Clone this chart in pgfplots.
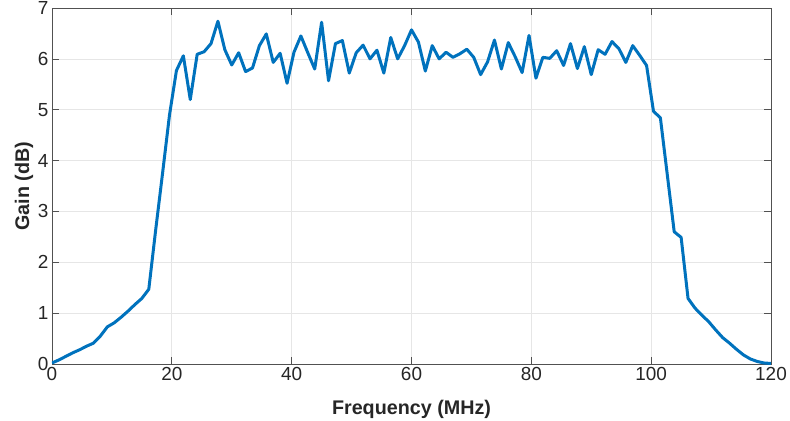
\documentclass[border=0pt]{standalone}
\usepackage{fontspec}
\setmainfont{Liberation Sans}
\usepackage{pgfplots}
\pgfplotsset{compat=1.18}
\definecolor{mblue}{RGB}{0,114,189}
\definecolor{axgray}{RGB}{38,38,38}
\definecolor{gridgray}{RGB}{230,230,230}
\begin{document}
\begin{tikzpicture}
\begin{axis}[
  scale only axis,
  width=719bp, height=356bp,
  anchor=south west, at={(0,0)},
  xmin=0, xmax=120, ymin=0, ymax=7,
  xtick={0,20,...,120}, ytick={0,1,...,7},
  grid=major,
  major grid style={gridgray, line width=0.7bp},
  axis line style={axgray!80, line width=0.7bp},
  tick style={axgray!80, line width=0.7bp},
  tick align=inside,
  major tick length=7bp,
  tick label style={font=\fontsize{19}{22}\selectfont, text=axgray},
  /pgf/number format/assume math mode=true,
  xlabel={Frequency (MHz)},
  ylabel={Gain (dB)},
  label style={font=\fontsize{19.8}{24}\selectfont\bfseries, text=axgray},
  xlabel style={at={(axis description cs:0.5,-0.1264)}, anchor=center},
  ylabel style={at={(axis description cs:-0.039,0.5)}, anchor=center},
]
\addplot[mblue, line width=3bp, line join=round] table {
x y
0.000 0.02
1.154 0.08
2.308 0.15
3.462 0.22
4.615 0.28
5.769 0.35
6.923 0.41
8.077 0.55
9.231 0.73
10.385 0.81
11.538 0.92
12.692 1.04
13.846 1.17
15.000 1.29
16.154 1.47
17.308 2.64
18.462 3.76
19.615 4.90
20.769 5.77
21.923 6.06
23.077 5.20
24.231 6.09
25.385 6.14
26.538 6.30
27.692 6.74
28.846 6.18
30.000 5.88
31.154 6.12
32.308 5.75
33.462 5.82
34.615 6.26
35.769 6.49
36.923 5.93
38.077 6.11
39.231 5.52
40.385 6.13
41.538 6.45
42.692 6.12
43.846 5.80
45.000 6.72
46.154 5.57
47.308 6.30
48.462 6.36
49.615 5.72
50.769 6.12
51.923 6.27
53.077 6.00
54.231 6.17
55.385 5.72
56.538 6.42
57.692 6.00
58.846 6.26
60.000 6.57
61.154 6.33
62.308 5.76
63.462 6.26
64.615 6.00
65.769 6.13
66.923 6.03
68.077 6.10
69.231 6.19
70.385 6.03
71.538 5.69
72.692 5.94
73.846 6.37
75.000 5.80
76.154 6.32
77.308 6.04
78.462 5.73
79.615 6.46
80.769 5.62
81.923 6.03
83.077 6.01
84.231 6.16
85.385 5.87
86.538 6.30
87.692 5.81
88.846 6.24
90.000 5.69
91.154 6.18
92.308 6.09
93.462 6.34
94.615 6.20
95.769 5.93
96.923 6.26
98.077 6.07
99.231 5.87
100.385 4.97
101.538 4.84
102.692 3.72
103.846 2.60
105.000 2.49
106.154 1.29
107.308 1.10
108.462 0.96
109.615 0.83
110.769 0.67
111.923 0.52
113.077 0.41
114.231 0.29
115.385 0.18
116.538 0.10
117.692 0.05
118.846 0.02
120.000 0.01
};
\end{axis}
\pgfresetboundingbox
\useasboundingbox (-52bp,-57bp) rectangle (738bp,364bp);
\end{tikzpicture}
\end{document}
